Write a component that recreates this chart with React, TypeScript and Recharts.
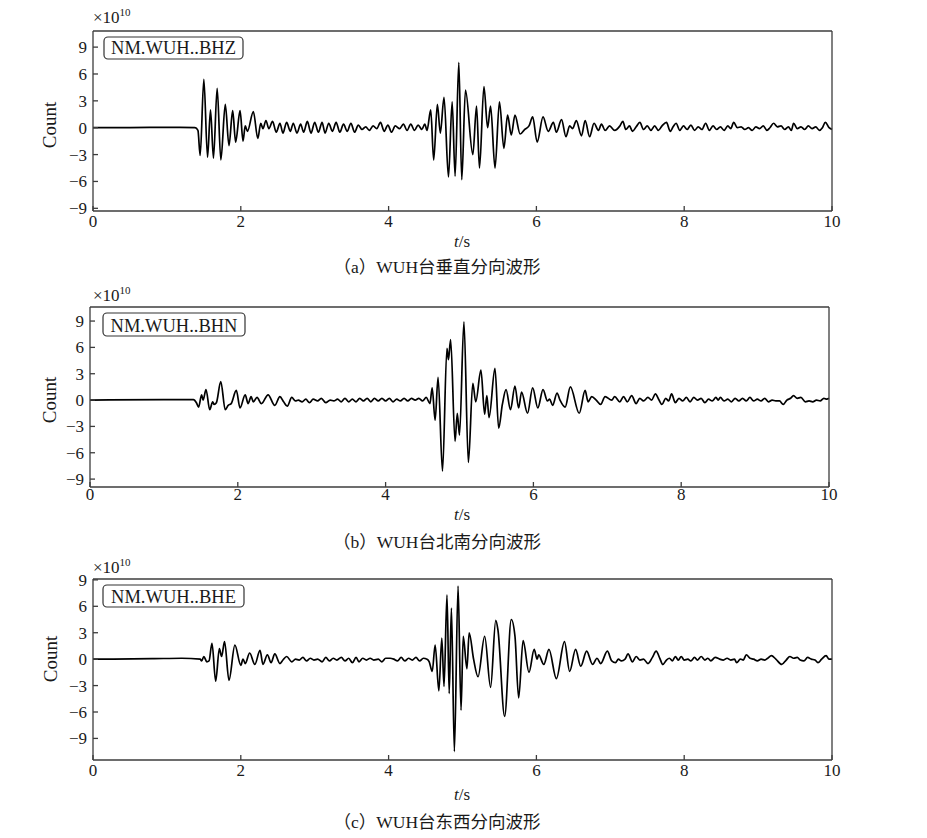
import { LineChart, Line, XAxis, YAxis } from "recharts";

// time (s), count (x1e10)
const timeTicks = [0, 2, 4, 6, 8, 10];
const countTicks = [-9, -6, -3, 0, 3, 6, 9];

const bhzTrace: number[][] = [
  [0, 0], [0.5, 0.02], [1.0, 0.03], [1.38, 0.02], [1.42, -0.3], [1.45, -3.1], [1.5, 5.4], [1.55, -3.3],
  [1.59, 2.0], [1.63, -3.4], [1.68, 4.4], [1.73, -3.6], [1.79, 2.6], [1.84, -2.0], [1.89, 1.9], [1.93, -1.6],
  [1.99, 1.9], [2.03, -1.5], [2.06, 0.2], [2.09, -0.4], [2.17, 1.8], [2.23, -1.2], [2.27, 0.5], [2.3, -0.1],
  [2.34, 0.8], [2.38, -0.1], [2.43, 0.7], [2.48, -0.5], [2.53, 0.5], [2.57, -0.6], [2.62, 0.6], [2.67, -0.4],
  [2.71, 0.5], [2.76, -0.6], [2.81, 0.4], [2.85, -0.5], [2.9, 0.7], [2.95, -0.6], [3.0, 0.6], [3.05, -0.5],
  [3.1, 0.6], [3.14, -0.6], [3.19, 0.5], [3.24, -0.4], [3.29, 0.6], [3.34, -0.5], [3.39, 0.4], [3.44, -0.4],
  [3.49, 0.5], [3.54, -0.5], [3.59, 0.3], [3.64, -0.2], [3.69, 0.1], [3.74, -0.3], [3.79, 0.2], [3.84, -0.1],
  [3.89, 0.6], [3.94, -0.4], [3.99, 0.3], [4.04, -0.5], [4.09, 0.2], [4.15, -0.1], [4.2, 0.4], [4.25, -0.3],
  [4.3, 0.4], [4.35, -0.3], [4.4, 0.3], [4.45, -0.2], [4.49, 0.4], [4.52, -0.3], [4.57, 2.0], [4.61, -3.6],
  [4.66, 2.6], [4.7, -0.6], [4.75, 3.4], [4.81, -5.5], [4.86, 2.9], [4.9, -5.4], [4.95, 7.3], [4.99, -5.8],
  [5.04, 4.2], [5.14, -3.0], [5.19, 2.4], [5.23, -4.5], [5.29, 4.6], [5.34, 0.0], [5.38, 2.4], [5.44, -4.5],
  [5.5, 2.9], [5.56, -2.3], [5.61, 1.4], [5.66, -0.8], [5.71, 1.4], [5.78, -0.7], [5.84, -0.2], [5.9, 0.2],
  [5.95, 1.2], [6.01, -1.6], [6.09, 1.2], [6.16, -0.4], [6.23, 0.6], [6.27, -0.5], [6.34, 0.9], [6.4, -1.0],
  [6.45, 0.2], [6.49, -0.1], [6.54, 0.8], [6.61, -0.9], [6.66, 0.8], [6.72, -1.0], [6.78, 0.5], [6.84, -0.3],
  [6.88, 0.4], [6.93, -0.3], [6.99, 0.2], [7.06, -0.3], [7.13, 0.2], [7.17, 0.7], [7.21, -0.2], [7.26, 0.2],
  [7.3, -0.4], [7.35, 0.1], [7.4, 0.6], [7.45, -0.2], [7.5, 0.2], [7.55, -0.3], [7.6, 0.2], [7.65, -0.3],
  [7.7, 0.2], [7.76, 0.6], [7.81, -0.4], [7.85, 0.1], [7.89, 0.5], [7.94, -0.3], [7.99, 0.2], [8.04, -0.2],
  [8.09, 0.3], [8.14, -0.3], [8.19, 0.1], [8.24, -0.2], [8.29, 0.5], [8.34, -0.3], [8.39, 0.2], [8.44, -0.2],
  [8.49, 0.1], [8.54, -0.3], [8.59, 0.2], [8.63, -0.1], [8.67, 0.6], [8.72, 0.0], [8.77, 0.1], [8.82, -0.2],
  [8.87, 0.0], [8.92, -0.3], [8.97, 0.1], [9.02, -0.1], [9.07, 0.2], [9.12, -0.3], [9.16, 0.0], [9.21, 0.5],
  [9.26, 0.1], [9.31, 0.2], [9.36, -0.2], [9.41, 0.1], [9.45, -0.3], [9.48, 0.5], [9.53, -0.1], [9.58, 0.1],
  [9.63, -0.2], [9.68, 0.2], [9.73, -0.1], [9.78, 0.1], [9.83, -0.3], [9.87, 0.0], [9.91, 0.6], [9.96, 0.0],
  [10, -0.2],
];

const bhnTrace: number[][] = [
  [0, 0], [1.0, 0.05], [1.4, 0.05], [1.44, -0.3], [1.47, -0.8], [1.51, 0.6], [1.53, 0.0], [1.57, 1.2],
  [1.62, -1.1], [1.66, -0.2], [1.68, -0.5], [1.71, -0.3], [1.77, 2.1], [1.83, -1.1], [1.87, -0.6], [1.91, -0.4],
  [1.98, 1.1], [2.03, -0.9], [2.1, 0.6], [2.14, -0.4], [2.18, 0.4], [2.21, -0.2], [2.26, 0.3], [2.32, -0.4],
  [2.41, 0.6], [2.5, -0.6], [2.57, 0.4], [2.62, -0.2], [2.67, -0.7], [2.73, 0.3], [2.78, -0.1], [2.82, 0.0],
  [2.87, -0.2], [2.92, 0.1], [2.97, -0.3], [3.02, 0.1], [3.08, -0.1], [3.13, 0.2], [3.19, -0.3], [3.25, 0.0],
  [3.3, -0.1], [3.35, 0.1], [3.4, -0.2], [3.45, 0.2], [3.5, -0.2], [3.55, 0.1], [3.6, -0.2], [3.65, 0.2],
  [3.7, -0.1], [3.75, 0.2], [3.8, -0.2], [3.85, 0.2], [3.9, -0.1], [3.95, 0.2], [4.0, -0.1], [4.05, 0.2],
  [4.1, -0.2], [4.15, 0.1], [4.2, -0.1], [4.25, 0.2], [4.3, -0.1], [4.35, 0.2], [4.4, 0.0], [4.45, 0.2],
  [4.5, -0.1], [4.55, 0.3], [4.6, -0.4], [4.63, 1.4], [4.67, -2.3], [4.71, 2.6], [4.77, -8.1], [4.83, 5.9],
  [4.85, 4.6], [4.88, 6.9], [4.94, -4.7], [4.97, -1.5], [5.0, -4.0], [5.06, 8.9], [5.12, -7.1], [5.18, 1.9],
  [5.22, -0.2], [5.29, 3.4], [5.34, -1.6], [5.37, 0.5], [5.4, -2.0], [5.48, 3.6], [5.53, -3.2], [5.58, -0.5],
  [5.63, 1.2], [5.69, -1.1], [5.75, 1.6], [5.8, -0.9], [5.84, 0.9], [5.92, -1.5], [5.99, 1.4], [6.06, -0.9],
  [6.13, 1.2], [6.19, -0.1], [6.22, 0.1], [6.26, -0.6], [6.32, 0.8], [6.36, 0.0], [6.43, -0.8], [6.5, 1.5],
  [6.62, -1.5], [6.7, 1.1], [6.74, -0.2], [6.79, 0.4], [6.85, 0.0], [6.91, -0.5], [6.97, 0.4], [7.06, 0.0],
  [7.1, 0.4], [7.17, -0.2], [7.22, 0.4], [7.27, -0.2], [7.33, 0.5], [7.39, -0.4], [7.44, 0.2], [7.49, -0.1],
  [7.55, 0.3], [7.6, 0.0], [7.65, 0.7], [7.7, 0.0], [7.74, -0.5], [7.79, 0.2], [7.83, -0.1], [7.87, 0.7],
  [7.92, -0.3], [7.97, 0.2], [8.02, -0.1], [8.07, 0.3], [8.12, -0.2], [8.17, 0.3], [8.22, 0.0], [8.27, 0.2],
  [8.32, -0.3], [8.37, 0.1], [8.42, -0.1], [8.47, 0.3], [8.5, 0.0], [8.53, 0.3], [8.58, -0.1], [8.63, 0.1],
  [8.68, -0.2], [8.73, 0.2], [8.78, -0.1], [8.83, 0.2], [8.88, -0.1], [8.93, 0.3], [8.98, -0.1], [9.03, 0.1],
  [9.08, -0.1], [9.13, 0.2], [9.18, -0.2], [9.23, 0.0], [9.28, -0.1], [9.33, -0.1], [9.38, -0.5], [9.43, 0.0],
  [9.48, 0.2], [9.52, 0.5], [9.57, 0.2], [9.62, 0.3], [9.68, -0.2], [9.73, -0.1], [9.78, -0.2], [9.83, 0.0],
  [9.88, -0.1], [9.93, 0.2], [9.97, 0.1], [10, 0.2],
];

const bheTrace: number[][] = [
  [0, 0], [0.8, 0.05], [1.2, 0.1], [1.45, 0.0], [1.47, -0.2], [1.5, 0.3], [1.54, -0.3], [1.57, -0.2],
  [1.61, 1.8], [1.66, -2.5], [1.71, 1.2], [1.74, 0.3], [1.78, 2.0], [1.84, -2.4], [1.92, 1.6], [2.0, -0.7],
  [2.03, 0.0], [2.06, -0.5], [2.12, 0.7], [2.19, -0.6], [2.26, 1.0], [2.3, -0.6], [2.36, 0.5], [2.41, -0.4],
  [2.46, 0.6], [2.53, -0.5], [2.57, -0.1], [2.62, 0.3], [2.69, -0.3], [2.74, 0.0], [2.79, -0.1], [2.84, 0.2],
  [2.89, -0.2], [2.94, 0.1], [2.99, -0.1], [3.04, 0.0], [3.1, -0.3], [3.15, 0.2], [3.2, -0.2], [3.25, 0.1],
  [3.3, -0.1], [3.36, 0.2], [3.41, -0.2], [3.46, 0.1], [3.51, -0.4], [3.56, 0.2], [3.6, -0.3], [3.65, 0.1],
  [3.7, -0.1], [3.75, 0.1], [3.8, -0.1], [3.86, 0.0], [3.91, -0.3], [3.96, 0.1], [4.02, 0.1], [4.07, 0.0],
  [4.12, -0.2], [4.17, 0.2], [4.22, -0.2], [4.27, 0.1], [4.32, -0.1], [4.37, 0.2], [4.42, -0.2], [4.47, 0.1],
  [4.52, 0.0], [4.55, -0.3], [4.59, -1.4], [4.63, 1.6], [4.68, -3.6], [4.72, 2.4], [4.75, -3.1], [4.79, 7.3],
  [4.82, -3.9], [4.85, 5.8], [4.89, -10.5], [4.94, 8.3], [4.98, -5.8], [5.01, 2.6], [5.06, -1.1], [5.09, 3.0],
  [5.15, 0.0], [5.21, -2.0], [5.3, 2.6], [5.38, -3.2], [5.45, 4.4], [5.48, 3.3], [5.57, -6.5], [5.66, 4.5],
  [5.71, 2.6], [5.76, -4.4], [5.82, 2.1], [5.9, -1.5], [5.97, 1.1], [6.01, 0.0], [6.03, 0.5], [6.1, -0.6],
  [6.17, 1.1], [6.27, -2.2], [6.38, 2.0], [6.45, -1.4], [6.53, 1.1], [6.6, -0.8], [6.68, 0.9], [6.76, -0.6],
  [6.82, 0.1], [6.87, -0.5], [6.96, 0.9], [7.02, -0.2], [7.07, -0.4], [7.11, 0.0], [7.15, -0.2], [7.2, 0.0],
  [7.24, 0.6], [7.3, -0.3], [7.35, 0.3], [7.4, -0.1], [7.45, 0.0], [7.51, -0.5], [7.57, 0.2], [7.62, 0.9],
  [7.67, 0.1], [7.71, -0.6], [7.76, -0.1], [7.8, 0.1], [7.84, -0.2], [7.88, 0.3], [7.92, -0.1], [7.96, 0.3],
  [8.0, -0.1], [8.05, 0.0], [8.09, -0.2], [8.14, 0.2], [8.18, -0.1], [8.23, 0.3], [8.28, -0.1], [8.32, 0.1],
  [8.36, -0.2], [8.42, 0.2], [8.48, 0.0], [8.53, -0.1], [8.58, 0.1], [8.63, -0.1], [8.68, 0.0], [8.71, -0.4],
  [8.76, 0.0], [8.8, -0.1], [8.84, 0.5], [8.89, 0.1], [8.94, 0.0], [8.99, -0.2], [9.04, 0.0], [9.09, -0.1],
  [9.13, 0.1], [9.18, 0.4], [9.24, 0.0], [9.32, -0.6], [9.38, -0.1], [9.43, 0.3], [9.48, 0.1], [9.53, 0.2],
  [9.57, -0.1], [9.62, -0.2], [9.67, 0.2], [9.72, 0.0], [9.77, -0.1], [9.81, -0.4], [9.86, 0.0], [9.92, 0.4],
  [9.96, 0.0], [10, 0.0],
];

const stations = ["NM.WUH..BHZ", "NM.WUH..BHN", "NM.WUH..BHE"];
const captions = [
  "（a）WUH台垂直分向波形",
  "（b）WUH台北南分向波形",
  "（c）WUH台东西分向波形",
];

const serif = "'Liberation Serif', 'Times New Roman', serif";
const cjkSerif = "'Liberation Serif', 'Noto Sans CJK SC', serif";
const axisColor = "#3c3c3c";
const textColor = "#1a1a1a";
const W = 927;

// layout of each panel in page pixels
const panels = [
  {
    trace: bhzTrace, top: 0, height: 250, left: 93, right: 832, plotTop: 31, plotBottom: 211,
    domain: [-9.3, 10.8], xLabelDy: 21, topTicks: false,
    scaleY: 23, countX: 56, countY: 125, box: [104, 37, 139, 22], boxTextY: 54, tsY: 247, capY: 273,
  },
  {
    trace: bhnTrace, top: 270, height: 250, left: 90, right: 829, plotTop: 307, plotBottom: 487,
    domain: [-9.9, 10.6], xLabelDy: 18, topTicks: true,
    scaleY: 301, countX: 56, countY: 400, box: [103, 313, 142, 23], boxTextY: 332, tsY: 520, capY: 548,
  },
  {
    trace: bheTrace, top: 545, height: 250, left: 93, right: 832, plotTop: 579, plotBottom: 760,
    domain: [-11.45, 9.1], xLabelDy: 21, topTicks: false,
    scaleY: 573, countX: 57, countY: 659, box: [103, 585, 141, 22], boxTextY: 603, tsY: 800, capY: 828,
  },
];

const fmt = (v: number) => (v < 0 ? `\u2212${-v}` : `${v}`);
const lineStyle = { stroke: axisColor, strokeWidth: 1.3 };

// tick text drawn by hand so the serif face and size stick
function makeXTick(dy: number) {
  return (props: any) => {
    const { x, payload } = props;
    const y0 = props.y;
    return (
      <text x={x} y={y0 + dy} textAnchor="middle" fontSize={17} fontFamily={serif} fill={textColor}>
        {payload.value}
      </text>
    );
  };
}

function YTick(props: any) {
  const { y, payload } = props;
  return (
    <text
      x={props.x}
      y={y + 6}
      textAnchor="end"
      fontSize={17}
      fontFamily={serif}
      fill={textColor}
    >
      {fmt(payload.value)}
    </text>
  );
}

function Panel({ p }: { p: (typeof panels)[number] }) {
  const data = p.trace.map(([t, v]) => ({ t, v }));
  // each axis takes 1px, so margins are 1px smaller than the plot edges
  return (
    <div style={{ position: "absolute", left: 0, top: p.top }}>
      <LineChart
        width={W}
        height={p.height}
        data={data}
        margin={{
          top: p.plotTop - p.top - 1,
          bottom: p.top + p.height - p.plotBottom - 1,
          left: p.left - 1,
          right: W - p.right - 1,
        }}
      >
        <XAxis
          dataKey="t"
          type="number"
          domain={[0, 10]}
          ticks={timeTicks}
          interval={0}
          height={1}
          axisLine={lineStyle}
          tickLine={lineStyle}
          tickSize={-5}
          tickMargin={0}
          tick={makeXTick(p.xLabelDy)}
        />
        <XAxis
          xAxisId="top"
          orientation="top"
          type="number"
          domain={[0, 10]}
          ticks={timeTicks}
          interval={0}
          height={1}
          axisLine={lineStyle}
          tickLine={p.topTicks ? lineStyle : false}
          tickSize={-5}
          tick={false}
        />
        <YAxis
          type="number"
          domain={p.domain}
          ticks={countTicks}
          interval={0}
          width={1}
          axisLine={lineStyle}
          tickLine={lineStyle}
          tickSize={-5}
          tickMargin={11}
          tick={<YTick />}
        />
        <YAxis
          yAxisId="right"
          orientation="right"
          type="number"
          domain={p.domain}
          width={1}
          axisLine={lineStyle}
          tickLine={false}
          tick={false}
        />
        <Line
          dataKey="v"
          type="monotone"
          stroke="#000"
          strokeWidth={1.7}
          dot={false}
          isAnimationActive={false}
        />
      </LineChart>
    </div>
  );
}

export default function App() {
  return (
    <div style={{ position: "absolute", left: 0, top: 0, width: W, height: 838, background: "#fff" }}>
      {panels.map((p, i) => (
        <Panel key={i} p={p} />
      ))}
      <svg
        width={W}
        height={838}
        style={{ position: "absolute", left: 0, top: 0, pointerEvents: "none" }}
      >
        {panels.map((p, i) => (
          <g key={i} fontFamily={serif} fill={textColor}>
            <text x={93} y={p.scaleY} fontSize={17}>
              ×10
              <tspan dy={-7} fontSize={11}>10</tspan>
            </text>
            <text
              x={p.countX}
              y={p.countY}
              fontSize={19}
              textAnchor="middle"
              transform={`rotate(-90 ${p.countX} ${p.countY})`}
            >
              Count
            </text>
            <rect
              x={p.box[0]}
              y={p.box[1]}
              width={p.box[2]}
              height={p.box[3]}
              rx={4}
              fill="#fff"
              stroke="#333"
              strokeWidth={1.2}
            />
            <text x={p.box[0] + p.box[2] / 2} y={p.boxTextY} fontSize={18.5} textAnchor="middle">
              {stations[i]}
            </text>
            <text x={462} y={p.tsY} fontSize={17} textAnchor="middle">
              <tspan fontStyle="italic">t</tspan>/s
            </text>
            <text x={437} y={p.capY} fontSize={17.5} textAnchor="middle" fontFamily={cjkSerif}>
              {captions[i]}
            </text>
          </g>
        ))}
      </svg>
    </div>
  );
}
